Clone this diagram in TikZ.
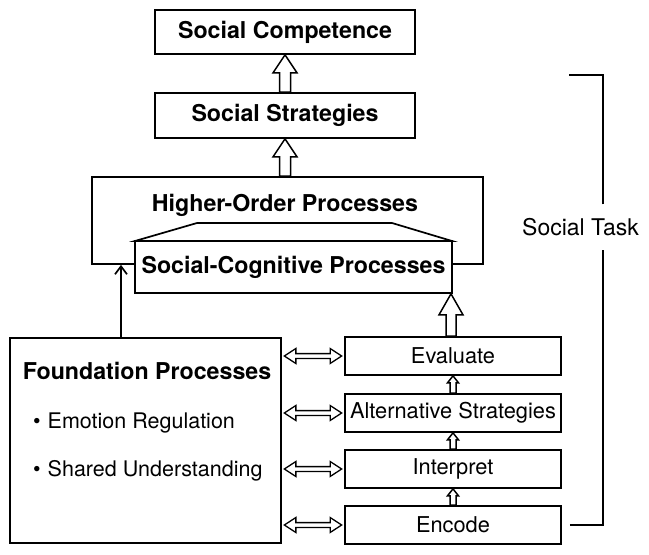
\documentclass[tikz,border=0pt]{standalone}
\usepackage{fontspec}
\setmainfont{TeX Gyre Heros}
\usetikzlibrary{arrows.meta,calc}
\newcommand{\blkup}[5]{%
  \draw[blk] let \p1=(#1), \p2=(#2) in
    (\x1-#3,\y1) -- (\x1-#3,\y2-#5) -- (\x1-#4,\y2-#5) -- (\x1,\y2)
    -- (\x1+#4,\y2-#5) -- (\x1+#3,\y2-#5) -- (\x1+#3,\y1) -- cycle;}
\newcommand{\blkdbl}[2]{%
  \draw[blkthin] let \p1=(#1), \p2=(#2) in
    (\x1+2.5pt,\y1) -- (\x1+14pt,\y1+7.5pt) -- (\x1+14pt,\y1+2.4pt)
    -- (\x2-14pt,\y1+2.4pt) -- (\x2-14pt,\y1+7.5pt) -- (\x2-2.5pt,\y1)
    -- (\x2-14pt,\y1-7.5pt) -- (\x2-14pt,\y1-2.4pt) -- (\x1+14pt,\y1-2.4pt)
    -- (\x1+14pt,\y1-7.5pt) -- cycle;}
\begin{document}
\begin{tikzpicture}[x=1pt,y=-1pt,
  bigbox/.style={draw, line width=1.7pt, fill=white, inner sep=0pt,
    font=\fontsize{23.2}{27}\selectfont\bfseries},
  stepbox/.style={draw, line width=1.7pt, fill=white, inner sep=0pt,
    font=\fontsize{21.8}{25}\selectfont, minimum width=216pt, minimum height=38pt},
  txt/.style={inner sep=0pt, font=\fontsize{21.5}{25}\selectfont},
  btxt/.style={inner sep=0pt, font=\fontsize{23.2}{27}\selectfont\bfseries},
  blk/.style={draw, line width=1.5pt, fill=white, line join=miter},
  blkthin/.style={draw, line width=1.3pt, fill=white, line join=miter},
  ln/.style={draw, line width=1.7pt}
]
\useasboundingbox (0,0) rectangle (649,555);

% top boxes
\node[bigbox, minimum width=260pt, minimum height=44pt] (sc) at (285,32) {Social Competence};
\node[bigbox, minimum width=260pt, minimum height=45pt] (ss) at (285,115.5) {Social Strategies};

% higher-order box
\node[bigbox, minimum width=391pt, minimum height=87pt] (hop) at (287.5,220.5) {};
\node[btxt] (hoptxt) at (285,205) {Higher-Order Processes};
\draw[ln, fill=white, line join=miter] (135,241) -- (197,223) -- (392,223) -- (452,241) -- cycle;
\node[bigbox, minimum width=317pt, minimum height=52pt] (scp) at (293.5,267) {Social-Cognitive Processes};

% foundation box
\node[bigbox, minimum width=271pt, minimum height=205pt] (found) at (145.5,440.5) {};
\node[btxt] (ftitle) at (147,371) {Foundation Processes};
\node[txt, anchor=west] (b1) at (33,423) {\textbullet\hspace{7pt}Emotion Regulation};
\node[txt, anchor=west] (b2) at (33,471) {\textbullet\hspace{7pt}Shared Understanding};

% process steps
\node[stepbox] (ev) at (453,356) {Evaluate};
\node[stepbox] (alt) at (453,413) {Alternative Strategies};
\node[stepbox] (int) at (453,469) {Interpret};
\node[stepbox] (enc) at (453,525) {Encode};

% block arrows upward
\blkup{ss.north}{sc.south}{5.5pt}{12pt}{18pt}
\blkup{hop.north -| ss.north}{ss.south}{5.5pt}{12pt}{18pt}
\blkup{[xshift=-2pt]ev.north}{[xshift=-2pt]ev.north |- scp.south}{5pt}{12pt}{21pt}
\blkup{alt.north}{ev.south}{3pt}{5.5pt}{7pt}
\blkup{int.north}{alt.south}{3pt}{5.5pt}{7pt}
\blkup{enc.north}{int.south}{3pt}{5.5pt}{7pt}

% double arrows
\blkdbl{found.east |- ev.west}{ev.west}
\blkdbl{found.east |- alt.west}{alt.west}
\blkdbl{found.east |- int.west}{int.west}
\blkdbl{found.east |- enc.west}{enc.west}

% foundation to higher-order
\coordinate (fx) at (121,0);
\draw[ln, -{Straight Barb[length=8pt,width=12pt]}] (fx |- found.north) -- (fx |- hop.south);

% social task bracket
\node[txt, font=\fontsize{23}{27}\selectfont, minimum height=45pt] (task) at (580.5,227) {Social Task};
\coordinate (br) at (603,0);
\coordinate (bt) at (569,75);
\draw[ln] ([xshift=8pt]enc.east) -- (br |- enc.east) -- (br |- task.south);
\draw[ln] (br |- task.north) -- (br |- bt) -- (bt);
\end{tikzpicture}
\end{document}
